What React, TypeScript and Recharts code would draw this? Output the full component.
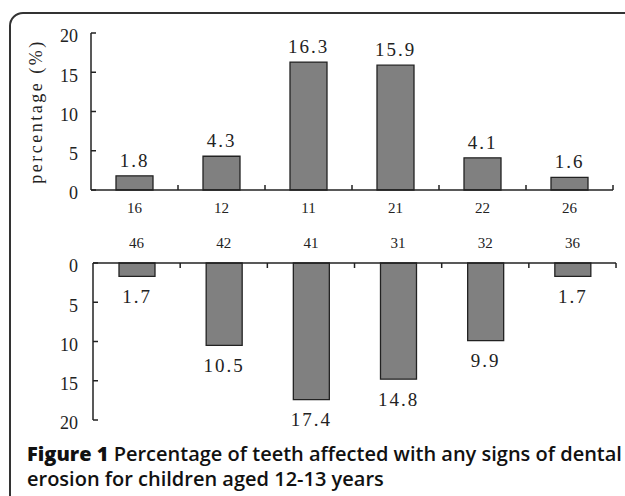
import React from "react";
import { BarChart, Bar, XAxis, YAxis, LabelList } from "recharts";

const upperTeeth = ["16", "12", "11", "21", "22", "26"];
const upperValues = [1.8, 4.3, 16.3, 15.9, 4.1, 1.6];
const lowerTeeth = ["46", "42", "41", "31", "32", "36"];
const lowerValues = [1.7, 10.5, 17.4, 14.8, 9.9, 1.7];
const yTicks = [0, 5, 10, 15, 20];

const upperData = upperTeeth.map((tooth, i) => ({ tooth, value: upperValues[i] }));
const lowerData = lowerTeeth.map((tooth, i) => ({ tooth, value: lowerValues[i] }));

const SERIF = '"Liberation Serif", "DejaVu Serif", serif';
const INK = "#222";
const BAR = "#808080";

// label at the band centre, small inward tick at the band's right edge
function ToothTick(props: any) {
  const { x, y, payload, band, top } = props;
  const axisY = top ? y + 15 : y - 12;
  const dir = top ? 1 : -1;
  return (
    <g>
      <text
        x={x}
        y={y}
        dy={top ? 0 : "0.71em"}
        textAnchor="middle"
        fill={INK}
        fontSize={15}
        fontFamily={SERIF}
      >
        {payload.value}
      </text>
      <line
        x1={x + band / 2}
        x2={x + band / 2}
        y1={axisY}
        y2={axisY + dir * 5}
        stroke={INK}
        strokeWidth={1.5}
      />
    </g>
  );
}

const fmt = (v: number) => v.toFixed(1);

export default function App() {
  return (
    <div
      style={{
        position: "absolute",
        left: 0,
        top: 0,
        width: 625,
        height: 496,
        overflow: "hidden",
        background: "#fff",
      }}
    >
      <div
        style={{
          position: "absolute",
          left: 9,
          top: 12,
          width: 660,
          height: 540,
          border: "2px solid #333",
          borderRadius: 14,
        }}
      />

      <div style={{ position: "absolute", left: 0, top: 0 }}>
        <BarChart
          width={625}
          height={220}
          data={upperData}
          margin={{ top: 33, right: 12, left: 0, bottom: 0 }}
        >
          <XAxis
            dataKey="tooth"
            height={30}
            tickSize={0}
            tickMargin={12}
            tickLine={false}
            axisLine={{ stroke: INK, strokeWidth: 1.5 }}
            tick={<ToothTick band={87} top={false} />}
            interval={0}
          />
          <YAxis
            width={91}
            domain={[0, 20]}
            ticks={yTicks}
            tickSize={-5}
            tickMargin={18}
            axisLine={{ stroke: INK, strokeWidth: 1.5 }}
            tickLine={{ stroke: INK, strokeWidth: 1.5 }}
            tick={{ fill: INK, fontSize: 18, fontFamily: SERIF, dy: 3 }}
            label={{
              value: "percentage (%)",
              angle: -90,
              position: "insideLeft",
              offset: 36,
              fill: INK,
              fontSize: 18,
              fontFamily: SERIF,
              style: { textAnchor: "middle", letterSpacing: 2.5 },
            }}
          />
          <Bar
            dataKey="value"
            fill={BAR}
            stroke={INK}
            strokeWidth={1.3}
            barSize={37}
            isAnimationActive={false}
          >
            <LabelList
              dataKey="value"
              position="top"
              offset={9}
              formatter={fmt}
              fill={INK}
              fontSize={19}
              fontFamily={SERIF}
              style={{ letterSpacing: 2 }}
            />
          </Bar>
        </BarChart>
      </div>

      <div style={{ position: "absolute", left: 0, top: 220 }}>
        <BarChart
          width={625}
          height={220}
          data={lowerData}
          margin={{ top: 0, right: 9, left: 0, bottom: 20 }}
        >
          <XAxis
            dataKey="tooth"
            orientation="top"
            height={43}
            tickSize={0}
            tickMargin={15}
            tickLine={false}
            axisLine={{ stroke: INK, strokeWidth: 1.5 }}
            tick={<ToothTick band={87.2} top={true} />}
            interval={0}
          />
          <YAxis
            width={93}
            domain={[0, 20]}
            ticks={yTicks}
            reversed
            tickSize={-5}
            tickMargin={20}
            axisLine={{ stroke: INK, strokeWidth: 1.5 }}
            tickLine={{ stroke: INK, strokeWidth: 1.5 }}
            tick={{ fill: INK, fontSize: 18, fontFamily: SERIF, dy: 3 }}
          />
          <Bar
            dataKey="value"
            fill={BAR}
            stroke={INK}
            strokeWidth={1.3}
            barSize={36}
            isAnimationActive={false}
          >
            <LabelList
              dataKey="value"
              position="top"
              offset={13}
              formatter={fmt}
              fill={INK}
              fontSize={19}
              fontFamily={SERIF}
              style={{ letterSpacing: 2 }}
            />
          </Bar>
        </BarChart>
      </div>

      <div
        style={{
          position: "absolute",
          left: 27,
          top: 441,
          fontFamily: '"Open Sans", sans-serif',
          fontSize: 20,
          fontWeight: 600,
          lineHeight: "25px",
          whiteSpace: "nowrap",
          color: "#111",
        }}
      >
        <span style={{ fontWeight: 800 }}>Figure 1</span> Percentage of teeth
        affected with any signs of dental
        <br />
        erosion for children aged 12-13 years
      </div>
    </div>
  );
}
